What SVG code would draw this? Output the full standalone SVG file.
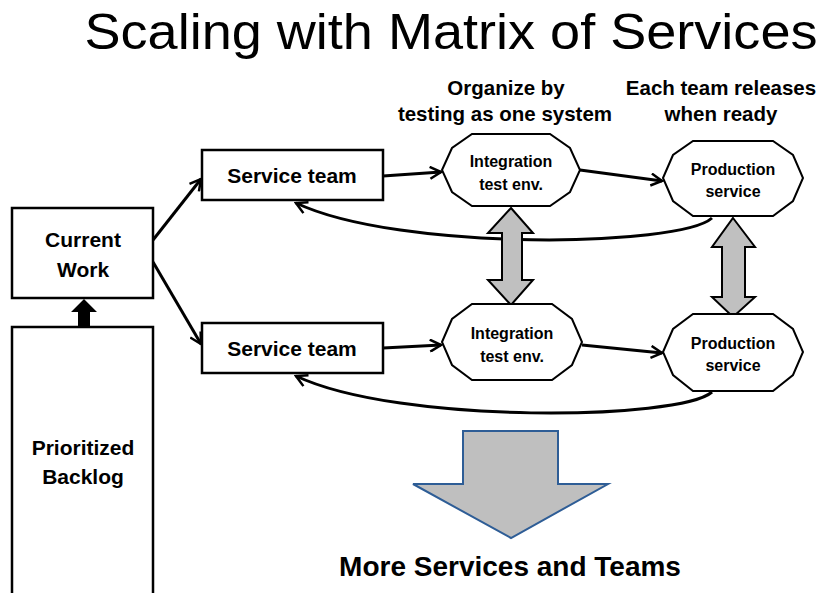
<svg xmlns="http://www.w3.org/2000/svg" width="828" height="593" viewBox="0 0 828 593">
<style>
text{font-family:"Liberation Sans",Arial,sans-serif;font-weight:bold;fill:#000;text-anchor:middle}
.box{fill:#fff;stroke:#000;stroke-width:2.5}
.oct{fill:#fff;stroke:#000;stroke-width:2}
.con{fill:none;stroke:#000;stroke-width:3}
.dbl{fill:#c0c0c0;stroke:#000;stroke-width:2}
.lbl{font-size:21px}
.olbl{font-size:16px}
.hdr{font-size:20.5px}
</style>
<defs>
<marker id="ah" viewBox="0 0 14 14" refX="12" refY="7" markerWidth="14" markerHeight="14" markerUnits="userSpaceOnUse" orient="auto">
<path d="M1,1 L12,7 L1,13" fill="none" stroke="#000" stroke-width="2.5"/>
</marker>
</defs>
<rect width="828" height="593" fill="#fff"/>
<text x="451" y="49" textLength="733" lengthAdjust="spacingAndGlyphs" style="font-weight:normal;font-size:50px">Scaling with Matrix of Services</text>
<g id="hdr-int"><text class="hdr" x="506" y="95">Organize by</text><text class="hdr" x="505" y="121">testing as one system</text></g>
<g id="hdr-prod"><text class="hdr" x="721" y="95">Each team releases</text><text class="hdr" x="721" y="121">when ready</text></g>

<g id="connectors">
<path class="con" d="M153,240 L201,179" marker-end="url(#ah)"/>
<path class="con" d="M153,262 L201,344" marker-end="url(#ah)"/>
<path class="con" d="M383,176 L441,172" marker-end="url(#ah)"/>
<path class="con" d="M580,170 L662,181" marker-end="url(#ah)"/>
<path class="con" d="M383,348 L441,345" marker-end="url(#ah)"/>
<path class="con" d="M582,345 L662,353" marker-end="url(#ah)"/>
<path class="con" d="M712,218 C680,247 400,252 296,203" marker-end="url(#ah)"/>
<path class="con" d="M712,392 C680,420 400,425 296,376" marker-end="url(#ah)"/>
<polygon points="78,326 90,326 90,312 97,312 84,299 71,312 78,312" fill="#000"/>
<polygon class="dbl" points="511,208 533,233 522,233 522,280 533,280 511,305 488,280 502,280 502,233 488,233"/>
<polygon class="dbl" points="733,218 755,247 745,247 745,297 755,297 733,317 712,297 722,297 722,247 712,247"/>
</g>

<g id="current-work"><rect class="box" x="12" y="208" width="141" height="90"/><text class="lbl" x="83" y="247">Current</text><text class="lbl" x="83" y="277">Work</text></g>
<g id="backlog"><rect class="box" x="12" y="327" width="141" height="290"/><text class="lbl" x="83" y="455">Prioritized</text><text class="lbl" x="83" y="484">Backlog</text></g>
<g id="service-team-1"><rect class="box" x="202" y="150" width="181" height="50"/><text class="lbl" x="292" y="183">Service team</text></g>
<g id="service-team-2"><rect class="box" x="202" y="323" width="181" height="50"/><text class="lbl" x="292" y="356">Service team</text></g>
<g id="integration-1"><polygon class="oct" points="442,170 452,148 472,134 550,134 570,148 580,170 570,192 550,206 472,206 452,192"/><text class="olbl" x="511" y="167">Integration</text><text class="olbl" x="511" y="190">test env.</text></g>
<g id="production-1"><polygon class="oct" points="663,178 673,155 693,141 773,141 793,155 803,178 793,201 773,216 693,216 673,201"/><text class="olbl" x="733" y="175">Production</text><text class="olbl" x="733" y="197">service</text></g>
<g id="integration-2"><polygon class="oct" points="442,342 452,319 472,304 552,304 572,319 582,342 572,365 552,380 472,380 452,365"/><text class="olbl" x="512" y="339">Integration</text><text class="olbl" x="512" y="362">test env.</text></g>
<g id="production-2"><polygon class="oct" points="663,352 673,329 693,314 773,314 793,329 803,352 793,375 773,391 693,391 673,375"/><text class="olbl" x="733" y="349">Production</text><text class="olbl" x="733" y="371">service</text></g>
<g id="more"><polygon points="463,431 558,431 558,484 608,484 511,538 413,484 463,484" fill="#bfbfbf" stroke="#2e5d96" stroke-width="2"/><text x="510" y="576" style="font-size:28px">More Services and Teams</text></g>
</svg>
